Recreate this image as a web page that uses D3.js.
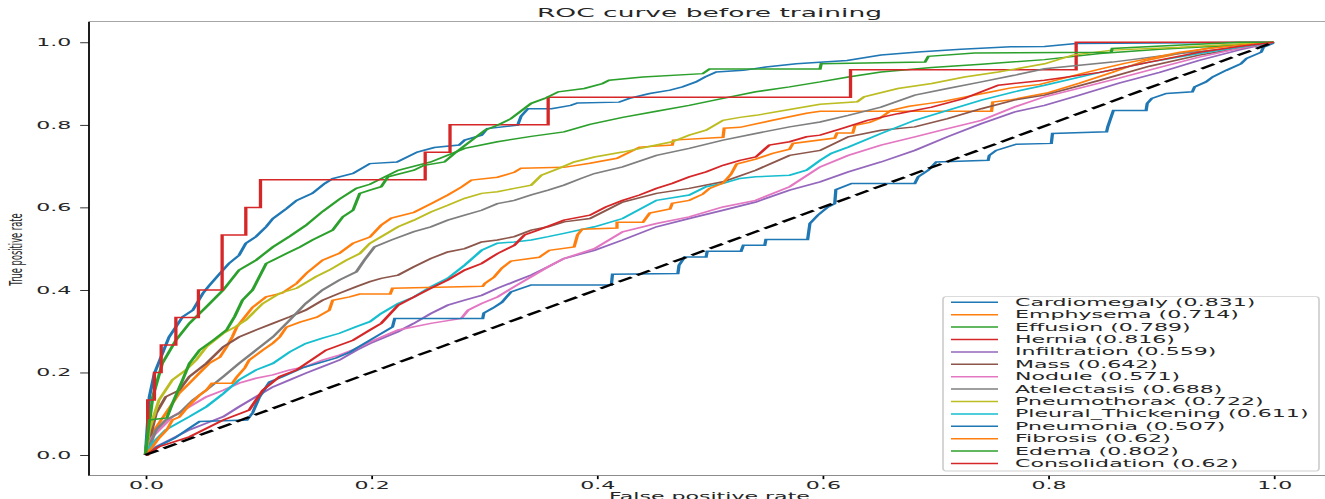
<!DOCTYPE html>
<html><head><meta charset="utf-8">
<script src="https://cdn.jsdelivr.net/npm/d3@7"></script>
<style>html,body{margin:0;padding:0;background:#fff;overflow:hidden}</style>
</head><body>
<svg id="chart" width="1325" height="499"></svg>
<script>
const title = "ROC curve before training";
const xLabel = "False positive rate";
const yLabel = "True positive rate";
const xTicks = [0, 0.2, 0.4, 0.6, 0.8, 1.0];
const yTicks = [0, 0.2, 0.4, 0.6, 0.8, 1.0];

const labels = ["Cardiomegaly","Emphysema","Effusion","Hernia","Infiltration","Mass","Nodule","Atelectasis","Pneumothorax","Pleural_Thickening","Pneumonia","Fibrosis","Edema","Consolidation"];
const aucs = [0.831,0.714,0.789,0.816,0.559,0.642,0.571,0.688,0.722,0.611,0.507,0.62,0.802,0.62];
const colors = ["#1f77b4","#ff7f0e","#2ca02c","#d62728","#9467bd","#8c564b","#e377c2","#7f7f7f","#bcbd22","#17becf","#1f77b4","#ff7f0e","#2ca02c","#d62728"];

// [false positive rate, true positive rate]
const cardiomegaly = [[0,0],[.0035,.141],[.008,.198],[.021,.286],[.033,.335],[.042,.351],[.051,.392],[.057,.412],[.066,.440],[.074,.464],[.083,.484],[.089,.513],[.098,.529],[.107,.553],[.113,.573],[.125,.597],[.134,.617],[.148,.634],[.159,.658],[.166,.670],[.184,.682],[.199,.706],[.223,.710],[.241,.734],[.256,.745],[.278,.751],[.283,.763],[.298,.775],[.303,.791],[.330,.799],[.333,.821],[.339,.839],[.360,.839],[.377,.847],[.383,.853],[.420,.855],[.429,.864],[.447,.876],[.465,.884],[.476,.892],[.488,.904],[.496,.916],[.506,.928],[.530,.932],[.550,.940],[.577,.948],[.622,.956],[.652,.969],[.688,.977],[.723,.983],[.767,.989],[.797,.990],[.825,.997],[1,1]];
const emphysema = [[0,0],[.0035,.036],[.008,.061],[.012,.077],[.020,.109],[.026,.133],[.030,.150],[.039,.174],[.048,.199],[.057,.223],[.066,.237],[.072,.262],[.077,.286],[.081,.310],[.086,.327],[.095,.358],[.107,.383],[.121,.392],[.134,.416],[.143,.441],[.157,.472],[.172,.489],[.184,.513],[.199,.528],[.209,.557],[.218,.574],[.238,.588],[.254,.610],[.268,.630],[.280,.649],[.289,.666],[.312,.673],[.327,.685],[.333,.695],[.371,.697],[.394,.707],[.418,.719],[.438,.746],[.467,.751],[.468,.763],[.512,.770],[.513,.792],[.527,.794],[.556,.811],[.586,.828],[.598,.833],[.750,.833],[.751,.855],[.766,.860],[.799,.877],[.828,.901],[.857,.927],[.887,.956],[.917,.973],[.946,.988],[.976,.996],[1,1]];
const effusion = [[0,0],[.0065,.141],[.015,.222],[.027,.278],[.039,.319],[.054,.359],[.069,.400],[.083,.448],[.098,.472],[.113,.504],[.128,.530],[.142,.556],[.157,.590],[.172,.620],[.187,.646],[.199,.656],[.224,.690],[.253,.710],[.283,.743],[.312,.759],[.342,.772],[.371,.783],[.394,.801],[.423,.818],[.453,.833],[.482,.847],[.512,.864],[.541,.880],[.571,.892],[.598,.904],[.623,.916],[.652,.928],[.697,.939],[.741,.947],[.797,.958],[.846,.973],[.899,.983],[.952,.991],[1,1]];
const hernia = [[0,0],[.002,.1333],[.008,.2],[.014,.2667],[.027,.3333],[.047,.4],[.068,.5333],[.089,.6],[.102,.6667],[.248,.7333],[.27,.8],[.357,.8667],[.625,.9333],[.825,1.0],[1,1]];
const infiltration = [[0,0],[.0095,.020],[.024,.040],[.039,.061],[.054,.077],[.069,.093],[.083,.117],[.098,.141],[.113,.165],[.128,.182],[.142,.198],[.157,.214],[.172,.230],[.187,.254],[.199,.270],[.224,.299],[.238,.319],[.253,.343],[.268,.363],[.283,.375],[.298,.387],[.312,.404],[.327,.420],[.342,.436],[.357,.456],[.371,.476],[.398,.496],[.423,.521],[.453,.553],[.482,.573],[.512,.593],[.541,.613],[.571,.642],[.598,.662],[.623,.686],[.652,.710],[.682,.738],[.711,.771],[.741,.803],[.770,.831],[.797,.847],[.828,.872],[.863,.901],[.899,.927],[.934,.956],[.969,.981],[1,1]];
const mass = [[0,0],[.0035,.036],[.0095,.101],[.018,.141],[.030,.157],[.039,.190],[.054,.222],[.069,.262],[.083,.286],[.098,.303],[.113,.319],[.128,.335],[.142,.351],[.157,.375],[.172,.392],[.187,.408],[.199,.420],[.209,.428],[.224,.436],[.238,.456],[.253,.476],[.268,.492],[.283,.500],[.298,.516],[.312,.521],[.327,.529],[.342,.545],[.357,.553],[.371,.565],[.394,.573],[.423,.613],[.453,.634],[.482,.646],[.512,.662],[.541,.690],[.571,.726],[.598,.738],[.623,.771],[.652,.787],[.682,.795],[.711,.815],[.741,.839],[.770,.860],[.797,.872],[.846,.908],[.890,.942],[.934,.969],[.969,.985],[1,1]];
const nodule = [[0,0],[.006,.044],[.024,.093],[.039,.117],[.054,.141],[.069,.157],[.083,.174],[.098,.186],[.113,.194],[.128,.206],[.142,.214],[.157,.230],[.172,.242],[.187,.258],[.199,.274],[.224,.303],[.253,.319],[.280,.331],[.286,.351],[.298,.367],[.312,.383],[.327,.408],[.342,.432],[.357,.456],[.371,.476],[.398,.500],[.423,.541],[.453,.561],[.482,.577],[.512,.601],[.541,.617],[.571,.650],[.598,.698],[.623,.726],[.652,.751],[.682,.771],[.711,.791],[.741,.811],[.770,.843],[.797,.868],[.828,.889],[.863,.913],[.899,.939],[.934,.964],[.969,.985],[1,1]];
const atelectasis = [[0,0],[.0035,.020],[.0095,.061],[.018,.085],[.030,.101],[.042,.133],[.054,.157],[.069,.190],[.083,.222],[.098,.254],[.113,.286],[.128,.327],[.142,.367],[.157,.400],[.172,.424],[.187,.444],[.194,.472],[.203,.504],[.218,.521],[.238,.541],[.253,.553],[.268,.569],[.283,.581],[.298,.593],[.312,.609],[.327,.617],[.342,.630],[.357,.642],[.371,.654],[.386,.670],[.398,.682],[.423,.698],[.453,.726],[.482,.743],[.512,.763],[.541,.779],[.571,.795],[.598,.807],[.623,.823],[.652,.843],[.682,.872],[.711,.888],[.741,.904],[.770,.920],[.797,.936],[.857,.952],[.917,.973],[.961,.985],[1,1]];
const pneumothorax = [[0,0],[.0035,.061],[.012,.133],[.024,.182],[.036,.206],[.045,.230],[.054,.262],[.069,.295],[.080,.311],[.089,.327],[.104,.367],[.119,.392],[.134,.404],[.151,.432],[.163,.448],[.178,.472],[.190,.488],[.199,.513],[.209,.529],[.224,.553],[.238,.569],[.253,.589],[.268,.605],[.283,.622],[.298,.634],[.312,.638],[.327,.646],[.342,.654],[.351,.678],[.366,.694],[.380,.710],[.398,.722],[.423,.734],[.453,.751],[.467,.759],[.482,.775],[.497,.787],[.512,.811],[.527,.818],[.541,.823],[.571,.837],[.598,.850],[.631,.856],[.637,.868],[.667,.888],[.697,.900],[.726,.916],[.756,.928],[.797,.948],[.822,.969],[.857,.981],[.917,.988],[.976,.997],[1,1]];
const pleuralThickening = [[0,0],[.006,.028],[.018,.061],[.039,.093],[.054,.117],[.069,.149],[.083,.182],[.098,.206],[.113,.222],[.128,.250],[.142,.270],[.157,.283],[.172,.295],[.187,.311],[.199,.323],[.209,.343],[.224,.367],[.238,.383],[.253,.408],[.268,.428],[.283,.460],[.298,.496],[.312,.513],[.327,.516],[.342,.521],[.357,.529],[.371,.537],[.398,.553],[.423,.573],[.453,.617],[.482,.630],[.497,.650],[.512,.658],[.527,.670],[.541,.674],[.571,.678],[.586,.690],[.598,.714],[.608,.731],[.623,.746],[.652,.779],[.682,.811],[.711,.835],[.741,.860],[.770,.880],[.797,.896],[.846,.927],[.890,.952],[.934,.973],[.969,.988],[1,1]];
const pneumonia = [[0,0],[.012,.022],[.026,.041],[.039,.065],[.048,.081],[.090,.085],[.095,.102],[.101,.140],[.110,.177],[.121,.189],[.139,.211],[.169,.235],[.181,.249],[.207,.291],[.219,.310],[.221,.331],[.299,.331],[.300,.344],[.308,.356],[.316,.370],[.324,.395],[.342,.412],[.413,.412],[.414,.438],[.472,.440],[.473,.460],[.478,.480],[.497,.480],[.498,.494],[.528,.494],[.530,.508],[.549,.508],[.550,.522],[.587,.522],[.589,.561],[.596,.581],[.605,.601],[.611,.609],[.612,.643],[.626,.658],[.682,.658],[.685,.674],[.694,.690],[.701,.710],[.747,.714],[.748,.726],[.754,.738],[.772,.753],[.803,.755],[.804,.779],[.852,.783],[.853,.795],[.858,.835],[.887,.835],[.888,.852],[.892,.864],[.905,.876],[.928,.880],[.930,.892],[.940,.904],[.946,.916],[.958,.932],[.971,.948],[.976,.961],[.989,.976],[.991,.988],[.999,.997],[1,1]];
const fibrosis = [[0,0],[.006,.019],[.012,.041],[.019,.061],[.024,.085],[.030,.092],[.039,.121],[.048,.145],[.054,.157],[.059,.174],[.077,.174],[.081,.189],[.088,.211],[.092,.230],[.104,.254],[.113,.271],[.119,.286],[.125,.310],[.137,.322],[.152,.334],[.163,.351],[.166,.375],[.181,.383],[.190,.390],[.217,.390],[.219,.404],[.299,.409],[.301,.416],[.309,.431],[.316,.453],[.324,.470],[.349,.479],[.358,.496],[.380,.504],[.383,.533],[.387,.547],[.418,.550],[.418,.564],[.441,.564],[.447,.586],[.465,.596],[.467,.610],[.482,.617],[.494,.632],[.500,.646],[.512,.659],[.519,.680],[.524,.705],[.541,.717],[.556,.731],[.571,.741],[.574,.755],[.611,.768],[.613,.780],[.627,.780],[.629,.799],[.642,.806],[.651,.816],[.661,.835],[.677,.845],[.695,.852],[.708,.857],[.726,.867],[.748,.879],[.766,.889],[.793,.898],[.810,.910],[.828,.923],[.846,.935],[.868,.949],[.890,.961],[.917,.976],[.943,.985],[.970,.993],[1,1]];
const edema = [[0,0],[.0035,.085],[.019,.090],[.024,.125],[.033,.182],[.039,.222],[.048,.254],[.060,.278],[.072,.303],[.079,.335],[.086,.375],[.095,.400],[.098,.416],[.107,.464],[.113,.472],[.125,.488],[.137,.504],[.148,.521],[.166,.545],[.175,.577],[.184,.593],[.190,.634],[.199,.642],[.209,.650],[.215,.674],[.238,.690],[.247,.702],[.265,.710],[.274,.731],[.301,.787],[.312,.799],[.324,.815],[.342,.852],[.354,.864],[.366,.880],[.389,.888],[.405,.900],[.411,.908],[.441,.916],[.494,.924],[.500,.935],[.598,.935],[.599,.948],[.691,.952],[.694,.966],[.735,.974],[.856,.976],[.857,.985],[.914,.993],[.970,1],[1,1]];
const consolidation = [[0,0],[.012,.020],[.039,.044],[.069,.085],[.092,.109],[.104,.157],[.119,.190],[.134,.206],[.160,.254],[.184,.278],[.199,.303],[.209,.319],[.224,.363],[.238,.383],[.253,.404],[.268,.424],[.283,.448],[.298,.464],[.312,.488],[.327,.508],[.336,.533],[.348,.545],[.371,.569],[.394,.581],[.408,.601],[.423,.617],[.438,.630],[.453,.646],[.467,.658],[.482,.674],[.497,.686],[.512,.702],[.527,.714],[.541,.722],[.553,.751],[.571,.759],[.586,.771],[.598,.775],[.617,.791],[.640,.811],[.667,.827],[.697,.843],[.726,.864],[.756,.896],[.797,.908],[.846,.927],[.890,.952],[.934,.976],[.969,.990],[1,1]];
const chance = [[0,0],[1,1]];

const curves = [cardiomegaly, emphysema, effusion, hernia, infiltration, mass, nodule, atelectasis, pneumothorax, pleuralThickening, pneumonia, fibrosis, edema, consolidation];
const stepped = ["Hernia"];

// The picture is a matplotlib figure stretched horizontally; draw in a narrow frame and stretch it.
const K = 1325 / 600;
const svg = d3.select("#chart");
const g = svg.append("g").attr("transform", `scale(${K},1)`);
const font = "DejaVu Sans, sans-serif";

const x = d3.scaleLinear().domain([-0.05, 1.05]).range([89 / K, 1330 / K]);
const y = d3.scaleLinear().domain([-0.05, 1.05]).range([475.65, 21.65]);

// curves
const plot = g.append("g");
curves.forEach((pts, i) => {
  const line = d3.line().x(d => x(d[0])).y(d => y(d[1]))
    .curve(stepped.includes(labels[i]) ? d3.curveStepAfter : d3.curveLinear);
  plot.append("path").datum(pts).attr("d", line)
    .attr("fill", "none").attr("stroke", colors[i]).attr("stroke-width", 1.5)
    .attr("stroke-linejoin", "miter");
});
plot.append("path").datum(chance)
  .attr("d", d3.line().x(d => x(d[0])).y(d => y(d[1])))
  .attr("fill", "none").attr("stroke", "#000").attr("stroke-width", 2)
  .attr("stroke-dasharray", "7.4,3.2");

// axes
const ya = g.append("g").attr("transform", `translate(${x(-0.05)},0)`)
  .call(d3.axisLeft(y).tickValues(yTicks).tickFormat(d3.format(".1f")).tickSize(4).tickPadding(4));
const xa = g.append("g").attr("transform", `translate(0,${y(-0.05)})`)
  .call(d3.axisBottom(x).tickValues(xTicks).tickFormat(d3.format(".1f")).tickSize(3.5).tickPadding(2.5));
[ya, xa].forEach(a => {
  a.select(".domain").remove();
  a.selectAll("line").attr("stroke", "#000").attr("stroke-width", 0.8);
  a.selectAll("text").attr("font-family", font).attr("font-size", 10).attr("fill", "#262626");
});

// spines
const sp = g.append("g").attr("stroke", "#000").attr("fill", "none");
sp.append("line").attr("x1", x(-0.05)).attr("x2", x(-0.05)).attr("y1", y(1.05)).attr("y2", y(-0.05)).attr("stroke-width", 0.8);
sp.append("line").attr("x1", x(-0.05)).attr("x2", x(1.05)).attr("y1", y(1.05)).attr("y2", y(1.05)).attr("stroke-width", 0.8).attr("stroke", "#888");
sp.append("line").attr("x1", x(-0.05)).attr("x2", x(1.05)).attr("y1", y(-0.05)).attr("y2", y(-0.05)).attr("stroke-width", 0.8).attr("stroke", "#666");

// titles
g.append("text").attr("x", (x(-0.05) + x(1.05)) / 2).attr("y", 17.3).attr("text-anchor", "middle")
  .attr("font-family", font).attr("font-size", 12).attr("fill", "#262626").text(title);
g.append("text").attr("x", (x(-0.05) + x(1.05)) / 2).attr("y", 500.5).attr("text-anchor", "middle")
  .attr("font-family", font).attr("font-size", 10).attr("fill", "#262626").text(xLabel);
g.append("text").attr("transform", `translate(${22 / K},249.5) rotate(-90)`).attr("text-anchor", "middle")
  .attr("font-family", font).attr("font-size", 8.3).attr("fill", "#262626").text(yLabel);

// legend
const lg = g.append("g");
lg.append("rect").attr("x", 943 / K).attr("y", 296.7).attr("width", (1319 - 943) / K).attr("height", 471 - 296.7)
  .attr("rx", 1.3).attr("ry", 3).attr("fill", "#fff").attr("fill-opacity", 0.8).attr("stroke", "#d0d0d0").attr("stroke-width", 0.8);
labels.forEach((name, i) => {
  const yy = 302.3 + i * 12.4;
  lg.append("line").attr("x1", 951 / K).attr("x2", 998 / K).attr("y1", yy).attr("y2", yy)
    .attr("stroke", colors[i]).attr("stroke-width", 1.5);
  lg.append("text").attr("x", 1015 / K).attr("y", yy).attr("dy", "0.36em")
    .attr("font-family", font).attr("font-size", 10).attr("fill", "#262626")
    .text(`${name} (${aucs[i]})`);
});
</script>
</body></html>
